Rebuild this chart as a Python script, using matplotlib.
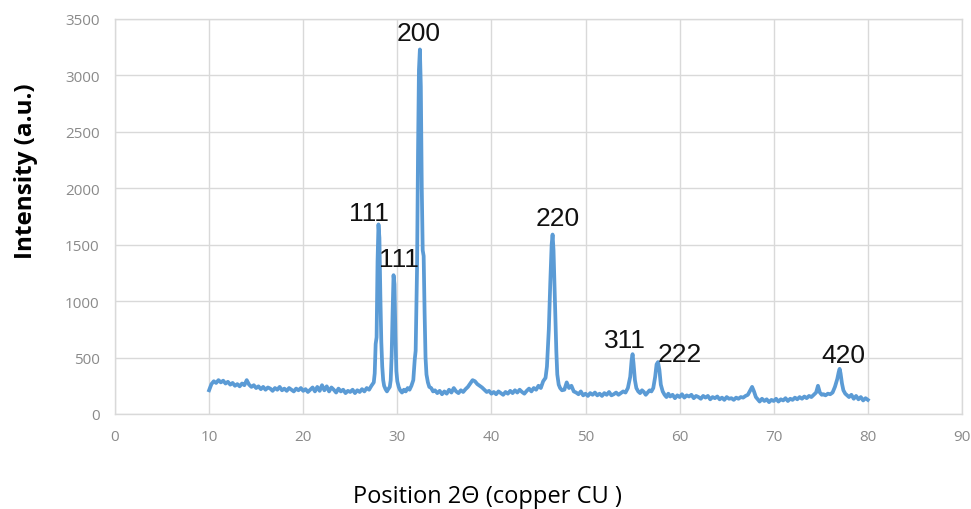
import matplotlib
matplotlib.use("Agg")
import matplotlib.pyplot as plt
import numpy as np

# XRD pattern: (2theta, intensity)
baseline_low = [
    (10.00, 210), (10.25, 265), (10.50, 290), (10.75, 275), (11.00, 300), (11.25, 280),
    (11.50, 295), (11.75, 270), (12.00, 285), (12.25, 260), (12.50, 275), (12.75, 250),
    (13.00, 265), (13.25, 245), (13.50, 270), (13.75, 255), (14.00, 300), (14.25, 260),
    (14.50, 240), (14.75, 255), (15.00, 230), (15.25, 245), (15.50, 220), (15.75, 240),
    (16.00, 215), (16.25, 235), (16.50, 225), (16.75, 205), (17.00, 230), (17.25, 215),
    (17.50, 240), (17.75, 210), (18.00, 225), (18.25, 205), (18.50, 230), (18.75, 215),
    (19.00, 200), (19.25, 225), (19.50, 210), (19.75, 230), (20.00, 205), (20.25, 220),
    (20.50, 195), (20.75, 215), (21.00, 235), (21.25, 200), (21.50, 240), (21.75, 205),
    (22.00, 255), (22.25, 210), (22.50, 245), (22.75, 200), (23.00, 235), (23.25, 215),
    (23.50, 190), (23.75, 225), (24.00, 200), (24.25, 215), (24.50, 185), (24.75, 205),
    (25.00, 195), (25.25, 215), (25.50, 185), (25.75, 210), (26.00, 195), (26.25, 220),
    (26.50, 200), (26.75, 230), (27.00, 215), (27.25, 250), (27.50, 280),
]
peaks_111_200 = [
    (27.60, 360), (27.70, 620), (27.80, 680), (27.90, 1350), (28.00, 1680), (28.10, 1560),
    (28.20, 1050), (28.30, 640), (28.40, 420), (28.50, 300), (28.60, 250), (28.75, 220),
    (28.90, 200), (29.00, 215), (29.20, 240), (29.30, 300), (29.40, 520), (29.50, 900),
    (29.60, 1230), (29.70, 1150), (29.80, 700), (29.90, 380), (30.00, 290), (30.15, 240),
    (30.30, 210), (30.50, 190), (30.70, 215), (30.90, 200), (31.10, 230), (31.30, 215),
    (31.50, 250), (31.70, 300), (31.85, 480), (31.95, 560), (32.10, 1300), (32.20, 2300),
    (32.30, 3050), (32.40, 3230), (32.50, 2900), (32.60, 2000), (32.70, 1450), (32.80, 1400),
    (32.90, 900), (33.00, 500), (33.10, 350), (33.25, 280), (33.40, 240), (33.60, 230),
    (33.80, 200),
]
baseline_mid = [
    (34.00, 210), (34.25, 185), (34.50, 205), (34.75, 175), (35.00, 200), (35.25, 180),
    (35.50, 215), (35.75, 190), (36.00, 230), (36.25, 200), (36.50, 185), (36.75, 210),
    (37.00, 195), (37.25, 220), (37.50, 240), (37.75, 270), (38.00, 300), (38.25, 290),
    (38.50, 265), (38.75, 250), (39.00, 235), (39.25, 215), (39.50, 195), (39.75, 205),
    (40.00, 180), (40.25, 195), (40.50, 175), (40.75, 200), (41.00, 185), (41.25, 170),
    (41.50, 195), (41.75, 180), (42.00, 205), (42.25, 185), (42.50, 210), (42.75, 190),
    (43.00, 215), (43.25, 195), (43.50, 180), (43.75, 205), (44.00, 225), (44.25, 200),
    (44.50, 230), (44.75, 215), (45.00, 250), (45.25, 230), (45.50, 290), (45.75, 320),
]
peaks_high = [
    (45.90, 420), (46.10, 750), (46.25, 1150), (46.40, 1500), (46.50, 1590), (46.60, 1450),
    (46.75, 1000), (46.90, 550), (47.00, 350), (47.15, 260), (47.30, 230), (47.50, 210),
    (47.75, 215), (48.00, 280), (48.25, 230), (48.50, 250), (48.75, 200), (49.00, 190),
    (49.25, 175), (49.50, 200), (49.75, 165), (50.00, 180), (50.25, 160), (50.50, 185),
    (50.75, 170), (51.00, 190), (51.25, 165), (51.50, 180), (51.75, 160), (52.00, 185),
    (52.25, 170), (52.50, 195), (52.75, 165), (53.00, 175), (53.25, 190), (53.50, 170),
    (53.75, 185), (54.00, 200), (54.25, 190), (54.50, 230), (54.75, 330), (54.90, 480),
    (55.00, 530), (55.10, 450), (55.25, 300), (55.40, 230), (55.60, 200), (55.80, 185),
    (56.00, 210), (56.20, 195), (56.40, 170), (56.60, 190), (56.80, 210), (57.00, 200),
    (57.20, 230), (57.40, 330), (57.55, 440), (57.70, 460), (57.85, 390), (58.00, 260),
    (58.20, 200), (58.40, 170), (58.60, 150), (58.80, 180), (59.00, 155), (59.25, 170),
    (59.50, 140), (59.75, 165), (60.00, 150), (60.25, 175), (60.50, 145), (60.75, 165),
    (61.00, 155), (61.25, 170), (61.50, 140), (61.75, 160), (62.00, 150), (62.25, 135),
    (62.50, 160), (62.75, 145), (63.00, 160), (63.25, 130), (63.50, 150), (63.75, 140),
    (64.00, 155), (64.25, 130), (64.50, 145), (64.75, 125), (65.00, 150), (65.25, 135),
    (65.50, 140), (65.75, 125), (66.00, 145), (66.25, 135), (66.50, 150), (66.75, 145),
    (67.00, 160), (67.25, 170), (67.50, 210), (67.70, 240), (67.90, 200), (68.10, 150),
    (68.30, 130), (68.50, 110), (68.75, 135), (69.00, 115), (69.25, 130), (69.50, 105),
    (69.75, 125), (70.00, 115), (70.25, 135), (70.50, 110), (70.75, 130), (71.00, 120),
    (71.25, 140), (71.50, 115), (71.75, 135), (72.00, 125), (72.25, 145), (72.50, 130),
    (72.75, 150), (73.00, 135), (73.25, 155), (73.50, 140), (73.75, 160), (74.00, 150),
    (74.25, 170), (74.50, 190), (74.70, 250), (74.90, 190), (75.10, 170), (75.30, 175),
    (75.50, 165), (75.75, 180), (76.00, 175), (76.25, 190), (76.50, 240), (76.75, 310),
    (76.90, 370), (77.00, 400), (77.10, 360), (77.25, 270), (77.40, 210), (77.60, 180),
    (77.80, 165), (78.00, 150), (78.25, 170), (78.50, 135), (78.75, 160), (79.00, 130),
    (79.25, 150), (79.50, 120), (79.75, 140), (80.00, 125),
]

# peak labels: text, 2theta, intensity where the label sits
peak_labels = ["111", "111", "200", "220", "311", "222", "420"]
label_x = [27.0, 30.2, 32.3, 47.0, 54.2, 60.0, 77.4]
label_y = [1780, 1370, 3380, 1740, 660, 530, 520]

x_ticks = [0, 10, 20, 30, 40, 50, 60, 70, 80, 90]
y_ticks = [0, 500, 1000, 1500, 2000, 2500, 3000, 3500]

pts = np.array(baseline_low + peaks_111_200 + baseline_mid + peaks_high)

fig = plt.figure(figsize=(9.71, 5.10), dpi=100)
ax = fig.add_axes([0.1184, 0.1863, 0.8723, 0.7745])

ax.plot(pts[:, 0], pts[:, 1], color="#5b9bd5", lw=2.7, solid_joinstyle="round")

ax.set_xlim(0, 90)
ax.set_ylim(0, 3500)
ax.set_xticks(x_ticks)
ax.set_yticks(y_ticks)
ax.grid(True, color="#d9d9d9", lw=1)
ax.set_axisbelow(True)
for s in ax.spines.values():
    s.set_color("#d9d9d9")
    s.set_linewidth(1)
ax.tick_params(length=0, pad=11, labelsize=11, labelcolor="#8a8a8a")
for lab in ax.get_xticklabels() + ax.get_yticklabels():
    lab.set_family("Open Sans")

for t, px, py in zip(peak_labels, label_x, label_y):
    ax.text(px, py, t, ha="center", va="center", fontsize=19,
            family="Liberation Sans", color="#111111")

fig.text(0.027, 0.665, "Intensity (a.u.)", rotation=90, ha="center", va="center",
         fontsize=17.5, fontweight="bold", family="Open Sans")
fig.text(0.5015, 0.025, "Position 2\u0398 (copper CU )", ha="center", va="center",
         fontsize=17, family="Open Sans")

fig.savefig("out.png", dpi=100)
